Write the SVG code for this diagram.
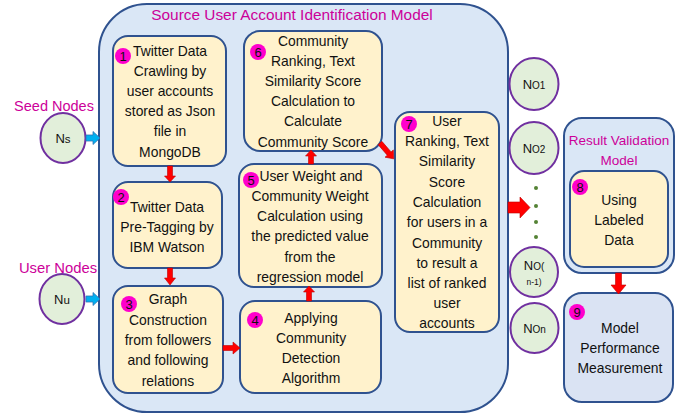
<svg xmlns="http://www.w3.org/2000/svg" width="688" height="416" viewBox="0 0 688 416">
<style>
text{font-family:"Liberation Sans",Arial,sans-serif;fill:#111;}
.t{font-size:13.9px;text-anchor:middle;}
.ttl{fill:#cc0099;text-anchor:middle;}
.cont{fill:#dae7f6;stroke:#2f528f;stroke-width:2;}
.box{fill:#fff2cc;stroke:#2f528f;stroke-width:2;}
.box9{fill:#dae3f3;stroke:#2f528f;stroke-width:2;}
.badge{fill:#ff00cc;}
.bn{font-size:13px;text-anchor:middle;fill:#111;}
.node{fill:#e2efda;stroke:#7030a0;stroke-width:2;}
.nl{font-size:13px;text-anchor:middle;}
.red{fill:#ff0000;stroke:#c00000;stroke-width:0.6;}
.cyan{fill:#00b0f0;stroke:#2f75b5;stroke-width:0.8;}
.dot{fill:#548235;}
</style>

<g id="source-model">
<rect class="cont" x="99" y="4" width="409" height="408" rx="48"/>
<text class="ttl" x="292" y="20" font-size="15.4">Source User Account Identification Model</text>
</g>

<g id="seed-label"><text class="ttl" x="54" y="111" font-size="14.5">Seed Nodes</text></g>
<g id="user-label"><text class="ttl" x="58" y="273" font-size="14.8">User Nodes</text></g>

<g id="Ns">
<ellipse class="node" cx="63" cy="138" rx="22.5" ry="25"/>
<text class="nl" x="63" y="142.5">N<tspan font-size="11.5">s</tspan></text>
</g>
<g id="Nu">
<ellipse class="node" cx="62" cy="299" rx="22.5" ry="25"/>
<text class="nl" x="62" y="303.5">N<tspan font-size="11.5">u</tspan></text>
</g>

<g id="step1">
<rect class="box" x="113" y="36" width="113" height="130" rx="15"/>
<circle class="badge" cx="123" cy="56" r="8"/><text class="bn" x="123" y="60.5">1</text>
<text class="t"><tspan x="170" y="56">Twitter Data</tspan><tspan x="170" y="76">Crawling by</tspan><tspan x="170" y="96">user accounts</tspan><tspan x="170" y="116">stored as Json</tspan><tspan x="170" y="136">file in</tspan><tspan x="170" y="157">MongoDB</tspan></text>
</g>

<g id="step2">
<rect class="box" x="113" y="182" width="109" height="86" rx="15"/>
<circle class="badge" cx="121" cy="197" r="8"/><text class="bn" x="121" y="201.5">2</text>
<text class="t"><tspan x="167" y="212">Twitter Data</tspan><tspan x="167" y="232">Pre-Tagging by</tspan><tspan x="167" y="252">IBM Watson</tspan></text>
</g>

<g id="step3">
<rect class="box" x="113" y="286" width="110" height="107" rx="15"/>
<circle class="badge" cx="129" cy="304" r="8"/><text class="bn" x="129" y="308.5">3</text>
<text class="t"><tspan x="168" y="304">Graph</tspan><tspan x="168" y="325">Construction</tspan><tspan x="168" y="345">from followers</tspan><tspan x="168" y="365">and following</tspan><tspan x="168" y="386">relations</tspan></text>
</g>

<g id="step4">
<rect class="box" x="240" y="301" width="141" height="92" rx="15"/>
<circle class="badge" cx="255" cy="320" r="8"/><text class="bn" x="255" y="324.5">4</text>
<text class="t"><tspan x="311" y="323">Applying</tspan><tspan x="311" y="343">Community</tspan><tspan x="311" y="363">Detection</tspan><tspan x="311" y="383">Algorithm</tspan></text>
</g>

<g id="step5">
<rect class="box" x="239" y="164" width="143" height="123" rx="15"/>
<circle class="badge" cx="251" cy="180" r="8"/><text class="bn" x="251" y="184.5">5</text>
<text class="t"><tspan x="311" y="181">User Weight and</tspan><tspan x="310" y="201">Community Weight</tspan><tspan x="310" y="221">Calculation using</tspan><tspan x="310" y="241">the predicted value</tspan><tspan x="310" y="262">from the</tspan><tspan x="310" y="282">regression model</tspan></text>
</g>

<g id="step6">
<rect class="box" x="244" y="31" width="138" height="120" rx="16"/>
<circle class="badge" cx="258" cy="52" r="8"/><text class="bn" x="258" y="56.5">6</text>
<text class="t"><tspan x="313" y="46">Community</tspan><tspan x="313" y="66">Ranking, Text</tspan><tspan x="313" y="86">Similarity Score</tspan><tspan x="313" y="106">Calculation to</tspan><tspan x="313" y="126">Calculate</tspan><tspan x="313" y="147">Community Score</tspan></text>
</g>

<g id="step7">
<rect class="box" x="395" y="112" width="104" height="220" rx="15"/>
<circle class="badge" cx="409" cy="124" r="8"/><text class="bn" x="409" y="128.5">7</text>
<text class="t"><tspan x="447" y="126">User</tspan><tspan x="447" y="146">Ranking, Text</tspan><tspan x="447" y="166">Similarity</tspan><tspan x="447" y="187">Score</tspan><tspan x="447" y="207">Calculation</tspan><tspan x="447" y="227">for users in a</tspan><tspan x="447" y="248">Community</tspan><tspan x="447" y="268">to result a</tspan><tspan x="447" y="288">list of ranked</tspan><tspan x="447" y="308">user</tspan><tspan x="447" y="328">accounts</tspan></text>
</g>

<g id="No1"><ellipse class="node" cx="534" cy="84" rx="24.5" ry="26"/><text class="nl" x="534" y="88.5">N<tspan font-size="10">O1</tspan></text></g>
<g id="No2"><ellipse class="node" cx="534" cy="148" rx="24.5" ry="26"/><text class="nl" x="534" y="152.5">N<tspan font-size="10">O2</tspan></text></g>
<g id="Non-1"><ellipse class="node" cx="534" cy="272" rx="24" ry="25"/><text class="nl" x="534" y="270">N<tspan font-size="10">O(</tspan></text><text x="534" y="285" font-size="8.5" text-anchor="middle">n-1)</text></g>
<g id="Non"><ellipse class="node" cx="534.5" cy="328" rx="24" ry="25"/><text class="nl" x="534.5" y="332.5">N<tspan font-size="10">On</tspan></text></g>

<g id="dots">
<circle class="dot" cx="536" cy="188" r="2"/>
<circle class="dot" cx="536" cy="206" r="2"/>
<circle class="dot" cx="536" cy="222" r="2"/>
<circle class="dot" cx="536" cy="237" r="2"/>
</g>

<g id="result-model">
<rect class="cont" x="564" y="118" width="110" height="155" rx="18"/>
<text class="ttl" x="619" y="145" font-size="13.5">Result Validation</text>
<text class="ttl" x="619" y="165" font-size="13.5">Model</text>
</g>

<g id="step8">
<rect class="box" x="570" y="171" width="98" height="96" rx="14"/>
<circle class="badge" cx="580" cy="187" r="8"/><text class="bn" x="580" y="191.5">8</text>
<text class="t"><tspan x="619" y="205">Using</tspan><tspan x="619" y="225">Labeled</tspan><tspan x="619" y="245">Data</tspan></text>
</g>

<g id="step9">
<rect class="box9" x="564" y="293" width="109" height="109" rx="18"/>
<circle class="badge" cx="577" cy="312" r="8"/><text class="bn" x="577" y="316.5">9</text>
<text class="t"><tspan x="620" y="333">Model</tspan><tspan x="620" y="353">Performance</tspan><tspan x="620" y="373">Measurement</tspan></text>
</g>

<g id="connectors">
<path class="cyan" d="M86,135 H93 V131.5 L100,138 L93,144.5 V141 H86 Z"/>
<path class="cyan" d="M86,296 H93 V292.5 L100,299 L93,305.5 V302 H86 Z"/>
<path class="red" d="M167.5,166 H172.5 V176 H175.5 L170,182 L164.5,176 H167.5 Z"/>
<path class="red" d="M167.5,268 H172.5 V278 H175.5 L170,285 L164.5,278 H167.5 Z"/>
<path class="red" d="M223,345.5 H233 V342 L240,348 L233,354 V350.5 H223 Z"/>
<path class="red" d="M306.5,301 V292 H303.5 L309,286 L314.5,292 H311.5 V301 Z"/>
<path class="red" d="M308.5,164 V156 H305.5 L311,150 L316.5,156 H313.5 V164 Z"/>
<path class="red" transform="translate(380,143) rotate(49)" d="M0,-2.5 H14 V-5.5 L21,0 L14,5.5 V2.5 H0 Z"/>
<path class="red" d="M508,202 H520 V197 L530,207.5 L520,218 V213 H508 Z"/>
<path class="red" d="M615.5,273 H621.5 V285 H626 L618.5,294 L611,285 H615.5 Z"/>
</g>
</svg>
